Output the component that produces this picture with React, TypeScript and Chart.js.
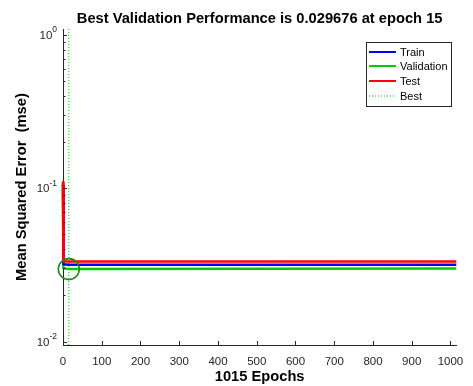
import { useEffect, useRef } from 'react';
import { Chart, registerables } from 'chart.js';

Chart.register(...registerables);

const epochs = [0, 1, 15, 1015];
const trainPerf = [0.105, 0.0319, 0.0317, 0.0317];
const validationPerf = [0.108, 0.0301, 0.029676, 0.0300];
const testPerf = [0.111, 0.0334, 0.0333, 0.0333];
const bestEpoch = 15;
const bestPerf = 0.029676;

const xTicks = [0, 100, 200, 300, 400, 500, 600, 700, 800, 900, 1000];
const yMajorTicks = [0.01, 0.1, 1];
const yExponents = ['-2', '-1', '0'];
const yMinorTicks = [0.02, 0.03, 0.04, 0.05, 0.06, 0.07, 0.08, 0.09, 0.2, 0.3, 0.4, 0.5, 0.6, 0.7, 0.8, 0.9];
const legendLabels = ['Train', 'Validation', 'Test', 'Best'];

const X_MIN = 0;
const X_MAX = 1015;
const Y_MIN = 0.0095;
const Y_MAX = 1.09;

const FONT = '"Liberation Sans", Arial, Helvetica, sans-serif';
const AXIS_COLOR = '#262626';
const TRAIN_COLOR = '#0000FF';
const VAL_COLOR = '#00CC00';
const TEST_COLOR = '#FF0000';
const BEST_COLOR = '#00CC00';
const CIRCLE_COLOR = '#1A8A1A';
const TITLE_SIZE = 14.7;

const toPoints = (ys: number[]) => epochs.map((x, i) => ({ x, y: ys[i] }));

const decorPlugin = {
  id: 'matlabDecor',
  afterDraw(chart: any) {
    const { ctx, chartArea, scales } = chart;
    const xs = scales.x;
    const ys = scales.y;
    ctx.save();
    // inward ticks
    ctx.strokeStyle = AXIS_COLOR;
    ctx.lineWidth = 1;
    ctx.beginPath();
    xTicks.forEach((v) => {
      const px = Math.round(xs.getPixelForValue(v)) + 0.5;
      ctx.moveTo(px, chartArea.bottom);
      ctx.lineTo(px, chartArea.bottom - 4);
    });
    yMajorTicks.forEach((v) => {
      const py = Math.round(ys.getPixelForValue(v)) + 0.5;
      ctx.moveTo(chartArea.left, py);
      ctx.lineTo(chartArea.left + 4, py);
    });
    yMinorTicks.forEach((v) => {
      const py = Math.round(ys.getPixelForValue(v)) + 0.5;
      ctx.moveTo(chartArea.left, py);
      ctx.lineTo(chartArea.left + 2.5, py);
    });
    ctx.stroke();

    // y tick labels with superscript exponents
    ctx.fillStyle = AXIS_COLOR;
    yMajorTicks.forEach((v, i) => {
      const py = ys.getPixelForValue(v);
      ctx.font = `8.5px ${FONT}`;
      const expW = ctx.measureText(yExponents[i]).width;
      const right = chartArea.left - 6;
      ctx.textAlign = 'left';
      ctx.textBaseline = 'middle';
      ctx.fillText(yExponents[i], right - expW, py - 5);
      ctx.font = `11.5px ${FONT}`;
      ctx.textAlign = 'right';
      ctx.fillText('10', right - expW, py + 1);
    });

    // legend
    const lx = 366.5;
    const ly = 42.5;
    const lw = 85;
    const lh = 64;
    ctx.fillStyle = '#FFFFFF';
    ctx.fillRect(lx, ly, lw, lh);
    ctx.strokeStyle = AXIS_COLOR;
    ctx.lineWidth = 1;
    ctx.strokeRect(lx, ly, lw, lh);
    const colors = [TRAIN_COLOR, VAL_COLOR, TEST_COLOR, BEST_COLOR];
    const rowY = [52, 66, 81, 96];
    legendLabels.forEach((label, i) => {
      const y = rowY[i];
      ctx.beginPath();
      ctx.strokeStyle = colors[i];
      if (i === 3) {
        ctx.lineWidth = 1;
        ctx.setLineDash([1, 2]);
      } else {
        ctx.lineWidth = 2;
        ctx.setLineDash([]);
      }
      ctx.moveTo(369, y);
      ctx.lineTo(396, y);
      ctx.stroke();
      ctx.setLineDash([]);
      ctx.fillStyle = '#000000';
      ctx.font = `11px ${FONT}`;
      ctx.textAlign = 'left';
      ctx.textBaseline = 'middle';
      ctx.fillText(label, 400, y + 0.5);
    });
    ctx.restore();
  },
};

export default function App() {
  const ref = useRef<HTMLCanvasElement | null>(null);

  useEffect(() => {
    if (!ref.current) return;
    const chart = new Chart(ref.current, {
      type: 'line',
      data: {
        datasets: [
          {
            label: 'Best circle',
            data: [{ x: bestEpoch, y: bestPerf }],
            showLine: false,
            pointRadius: 10.5,
            pointStyle: 'circle',
            pointBorderColor: CIRCLE_COLOR,
            pointBackgroundColor: 'rgba(0,0,0,0)',
            pointBorderWidth: 1.6,
            order: 0,
            clip: false,
          } as any,
          {
            label: 'Test',
            data: toPoints(testPerf),
            borderColor: TEST_COLOR,
            borderWidth: 2.5,
            pointRadius: 0,
            tension: 0,
            order: 1,
            clip: false,
          },
          {
            label: 'Train',
            data: toPoints(trainPerf),
            borderColor: TRAIN_COLOR,
            borderWidth: 2.5,
            pointRadius: 0,
            tension: 0,
            order: 2,
            clip: false,
          },
          {
            label: 'Validation',
            data: toPoints(validationPerf),
            borderColor: VAL_COLOR,
            borderWidth: 2.5,
            pointRadius: 0,
            tension: 0,
            order: 3,
            clip: false,
          },
          {
            label: 'Best',
            data: [
              { x: bestEpoch, y: Y_MIN },
              { x: bestEpoch, y: Y_MAX },
            ],
            borderColor: BEST_COLOR,
            borderWidth: 1,
            borderDash: [1, 2],
            pointRadius: 0,
            order: 4,
          },
        ],
      },
      options: {
        animation: false,
        responsive: false,
        devicePixelRatio: 1,
        layout: { padding: { left: 0, right: 10, top: 0, bottom: 0 } },
        plugins: {
          legend: { display: false },
          tooltip: { enabled: false },
          title: {
            display: true,
            text: 'Best Validation Performance is 0.029676 at epoch 15',
            color: '#000000',
            font: { family: FONT, size: TITLE_SIZE, weight: 'bold' },
            padding: { top: 10.2, bottom: 1.2 },
            fullSize: false,
          },
        },
        scales: {
          x: {
            type: 'linear',
            min: X_MIN,
            max: X_MAX,
            afterBuildTicks: (s: any) => {
              s.ticks = xTicks.map((v) => ({ value: v }));
            },
            afterFit: (s: any) => {
              s.height = 41;
            },
            grid: { display: false, drawTicks: false },
            border: { display: true, color: AXIS_COLOR, width: 1 },
            ticks: {
              color: AXIS_COLOR,
              font: { family: FONT, size: 11.5 },
              padding: 9.5,
              maxRotation: 0,
              autoSkip: false,
              callback: (v: any) => String(v),
            },
            title: {
              display: true,
              text: '1015 Epochs',
              color: '#000000',
              font: { family: FONT, size: TITLE_SIZE, weight: 'bold' },
              padding: { top: 0, bottom: 0.2 },
            },
          },
          y: {
            type: 'logarithmic',
            min: Y_MIN,
            max: Y_MAX,
            afterBuildTicks: (s: any) => {
              s.ticks = yMajorTicks.map((v) => ({ value: v }));
            },
            afterFit: (s: any) => {
              s.width = 63;
            },
            grid: { display: false, drawTicks: false },
            border: { display: true, color: AXIS_COLOR, width: 1 },
            ticks: { display: false },
            title: {
              display: true,
              text: 'Mean Squared Error  (mse)',
              color: '#000000',
              font: { family: FONT, size: TITLE_SIZE, weight: 'bold' },
              padding: { top: 13.2, bottom: 0 },
            },
          },
        },
      },
      plugins: [decorPlugin],
    } as any);
    return () => chart.destroy();
  }, []);

  return (
    <div style={{ position: 'fixed', left: 0, top: 0, width: 473, height: 386, background: '#FFFFFF' }}>
      <canvas ref={ref} width={473} height={386} style={{ display: 'block', width: 473, height: 386 }} />
    </div>
  );
}
